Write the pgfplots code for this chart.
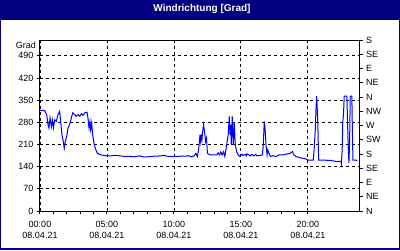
\documentclass[border=0pt]{standalone}
\usepackage{pgfplots}
\pgfplotsset{compat=1.18}
\usepackage{fontspec}
\setmainfont{Liberation Sans}
\definecolor{navy}{HTML}{000080}
\begin{document}
\begin{tikzpicture}[x=1pt,y=1pt]
\path[use as bounding box] (0,0) rectangle (400,250);
\fill[navy] (0,0) rectangle (400,250);
\fill[white] (1,2) rectangle (399,230);
\node[text=white,font=\bfseries\fontsize{10}{12}\selectfont] at (202,241) {Windrichtung [Grad]};
\begin{axis}[
  at={(40pt,39pt)}, anchor=south west,
  scale only axis, width=319.5pt, height=171pt,
  xmin=0, xmax=23.85, ymin=0, ymax=540,
  xtick={0,5,10,15,20}, minor x tick num=4,
  xticklabels={{00:00\\[-3pt]08.04.21},{05:00\\[-3pt]08.04.21},{10:00\\[-3pt]08.04.21},{15:00\\[-3pt]08.04.21},{20:00\\[-3pt]08.04.21}},
  xticklabel style={align=center,font=\fontsize{9}{14}\selectfont,yshift=-4pt},
  ytick={0,70,...,490},
  yticklabel style={font=\fontsize{9}{11}\selectfont},
  /pgf/number format/assume math mode=true,
  xtick pos=bottom, ytick pos=left,
  tick align=outside, major tick length=3pt, minor tick length=3pt,
  tick style={black,line width=1pt},
  axis line style={black,line width=1pt},
  grid=major,
  major grid style={black,line width=0.9pt,dash pattern=on 3pt off 3pt},
  clip=false,
]
\addplot[blue,line width=1pt] coordinates {
(0.0,318)(0.35,317)(0.5,304)(0.6,272)(0.67,262)(0.75,294)(0.85,267)(0.92,288)(1.0,262)(1.1,288)
(1.22,283)(1.34,304)(1.47,315)(1.54,283)(1.64,241)(1.74,219)(1.81,198)(1.89,219)(1.99,235)(2.09,262)
(2.2,272)(2.34,294)(2.44,310)(2.6,304)(2.7,299)(2.84,304)(2.97,299)(3.09,307)(3.2,302)(3.34,310)
(3.51,312)(3.58,294)(3.66,262)(3.73,283)(3.78,257)(3.86,278)(3.93,241)(4.03,214)(4.13,198)(4.28,182)
(4.58,177)(4.95,174)(5.3,174)(5.6,176)(6.0,174)(6.4,172)(6.7,173)(6.97,171)(7.46,174)(7.7,171)
(8.0,171)(8.46,173)(9.08,174)(9.2,176)(9.5,173)(9.95,172)(10.5,173)(10.95,173)(11.07,175)(11.3,171)
(11.5,174)(11.64,182)(11.74,172)(11.84,193)(11.9,219)(11.94,241)(11.99,219)(12.04,235)(12.09,225)(12.14,251)
(12.21,272)(12.28,251)(12.36,219)(12.43,230)(12.5,182)(12.7,177)(13.2,177)(13.3,184)(13.4,177)(13.5,187)
(13.6,177)(13.65,182)(13.7,187)(13.8,172)(14.05,241)(14.13,299)(14.18,241)(14.23,272)(14.28,209)(14.35,299)
(14.43,209)(14.5,278)(14.58,209)(14.68,187)(14.8,177)(14.93,172)(15.05,179)(15.15,175)(15.3,179)(15.4,174)
(15.45,181)(15.6,177)(15.7,174)(15.8,179)(15.95,174)(16.1,179)(16.2,174)(16.6,177)(16.67,209)(16.74,283)
(16.8,262)(16.87,209)(16.95,177)(17.0,193)(17.1,182)(17.2,172)(17.4,175)(17.6,172)(17.85,177)(18.16,177)
(18.4,180)(18.66,182)(18.85,188)(18.95,177)(19.1,172)(19.28,170)(19.53,167)(19.78,165)(20.03,161)(20.4,161)
(20.47,198)(20.55,257)(20.6,320)(20.65,363)(20.7,320)(20.75,257)(20.8,161)(21.6,160)(21.9,158)(22.14,156)
(22.46,157)(22.5,148)(22.56,198)(22.6,278)(22.66,310)(22.71,363)(22.91,363)(22.96,278)(23.01,198)(23.06,151)
(23.11,214)(23.16,363)(23.28,363)(23.32,250)(23.36,161)(23.7,160)
};
\node[anchor=north east,inner sep=0pt,font=\fontsize{9}{11}\selectfont] at (rel axis cs:0,1) [xshift=-4pt,yshift=-1.5pt] {Grad};
\end{axis}
\begin{axis}[
  at={(40pt,39pt)}, anchor=south west,
  scale only axis, width=319.5pt, height=171pt,
  xmin=0, xmax=23.85, ymin=0, ymax=540,
  hide x axis, axis y line*=right,
  ytick={0,45,...,540},
  yticklabels={N,NE,E,SE,S,SW,W,NW,N,NE,E,SE,S},
  yticklabel style={font=\fontsize{9}{11}\selectfont},
  tick align=outside, major tick length=3pt,
  tick style={black,line width=1pt},
  axis line style={black,line width=1pt},
  y axis line style={-},
]
\end{axis}
\end{tikzpicture}
\end{document}
